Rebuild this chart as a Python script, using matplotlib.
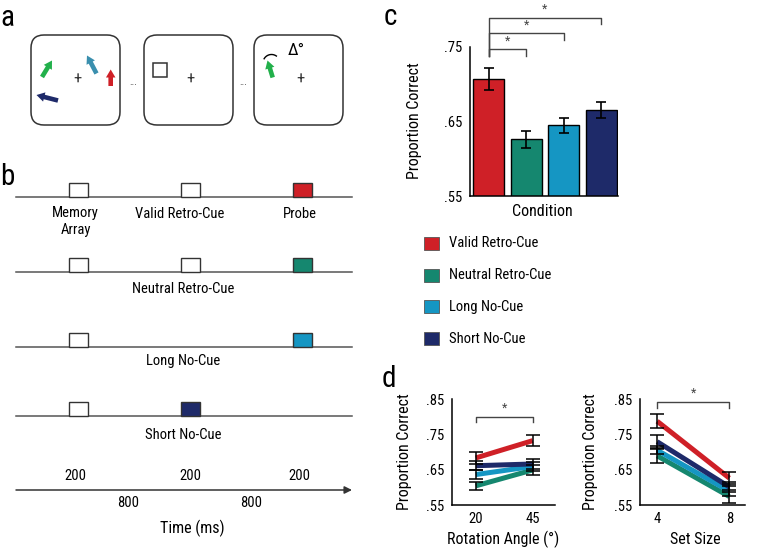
import numpy as np
import matplotlib
matplotlib.use("Agg")
import matplotlib.pyplot as plt
from matplotlib.patches import FancyBboxPatch, Rectangle, FancyArrow

plt.rcParams['font.family'] = ['Liberation Sans Narrow', 'Roboto Condensed', 'Liberation Sans', 'DejaVu Sans']

# ---- data ----
conditions = ['Valid Retro-Cue', 'Neutral Retro-Cue', 'Long No-Cue', 'Short No-Cue']
colors = ['#cf2027', '#15876f', '#1596c3', '#1e2a69']

# panel c: proportion correct by condition
acc_mean = [0.707, 0.626, 0.645, 0.665]
acc_err = [0.0145, 0.0115, 0.010, 0.011]
sig_pairs = [(0, 1), (0, 2), (0, 3)]

# panel d: rotation angle
angles = [20, 45]
angle_mean = [[0.684, 0.733], [0.605, 0.650], [0.637, 0.660], [0.662, 0.667]]
angle_err = [[0.018, 0.015], [0.011, 0.013], [0.013, 0.012], [0.012, 0.013]]

# panel d: set size
set_sizes = [4, 8]
size_mean = [[0.788, 0.627], [0.690, 0.575], [0.706, 0.590], [0.730, 0.602]]
size_err = [[0.020, 0.016], [0.019, 0.018], [0.012, 0.015], [0.019, 0.015]]

# panel b: trial timing (ms)
durations = [200, 800, 200, 800, 200]
time_labels = ['200', '800', '200', '800', '200']
row_events = [['white', 'white', colors[0]],
              ['white', 'white', colors[1]],
              ['white', None, colors[2]],
              ['white', colors[3], None]]
row_names = [None, 'Neutral Retro-Cue', 'Long No-Cue', 'Short No-Cue']

W, H = 761, 548
fig = plt.figure(figsize=(W / 100, H / 100), dpi=100)

# overlay in pixel coordinates for the schematics and labels
ax0 = fig.add_axes([0, 0, 1, 1])
ax0.set_xlim(0, W)
ax0.set_ylim(H, 0)
ax0.axis('off')

dark = '#333333'
fs_lab = 11.5
fs_tick = 10.5

# panel letters
for s, x, y in [('a', 7.5, 26), ('b', 7.5, 185), ('c', 390, 25), ('d', 389, 387)]:
    ax0.text(x, y, s, fontsize=21, ha='center', va='baseline')

# ---- panel a ----
for x0 in [31, 144, 254]:
    ax0.add_patch(FancyBboxPatch((x0, 35), 89, 90, boxstyle='round,pad=0,rounding_size=13',
                                 fc='white', ec=dark, lw=1.1))
    ax0.text(x0 + 46, 79, '+', fontsize=12, ha='center', va='center', color=dark)
for x in [133, 243]:
    ax0.text(x, 82, '...', fontsize=7, ha='center', va='center', color=dark)

arrows = [((42, 77), (52, 60.5), '#22b04b'),
          ((96.5, 73.5), (87, 55.5), '#3a8fae'),
          ((110.7, 86), (110.7, 69.5), '#cf2027'),
          ((58, 100.5), (36.5, 95), '#1e2a69'),
          ((272.7, 77.5), (267.5, 60.5), '#22b04b')]
for (x1, y1), (x2, y2), c in arrows:
    ax0.add_patch(FancyArrow(x1, y1, x2 - x1, y2 - y1, width=4.6, head_width=9.5,
                             head_length=8, length_includes_head=True, color=c, lw=0))
ax0.add_patch(Rectangle((153, 63), 14, 14, fc='white', ec=dark, lw=1.1))
t = np.radians(np.linspace(55, 150, 30))
ax0.plot(271.5 + 8.5 * np.cos(t), 63 - 8.5 * np.sin(t), color='black', lw=1.0)
ax0.text(288, 55, 'Δ°', fontsize=12.5, ha='left', va='baseline')

# ---- panel b ----
onsets = np.cumsum([0] + durations[:-1])
scale = 0.112
x_start = 69
box_w, box_h = 19, 14
row_y = [196.7, 271.7, 347.3, 415.7]
line_x = (16, 352)
for r, y in enumerate(row_y):
    ax0.plot(line_x, [y, y], color='#555555', lw=1.1, zorder=1)
    for k, fc in enumerate(row_events[r]):
        if fc is None:
            continue
        bx = x_start + onsets[2 * k] * scale
        ax0.add_patch(Rectangle((bx, y - box_h), box_w, box_h, fc=fc, ec=dark, lw=1, zorder=2))
    if row_names[r]:
        ax0.text(np.mean(line_x) - 1, y + [0, 21, 18, 23][r], row_names[r], fontsize=fs_tick,
                 ha='center', va='baseline')
box_cx = [x_start + onsets[2 * k] * scale + box_w / 2 - 3 for k in range(3)]
ax0.text(box_cx[0], 217.3, 'Memory', fontsize=fs_tick, ha='center', va='baseline')
ax0.text(box_cx[0], 234, 'Array', fontsize=fs_tick, ha='center', va='baseline')
ax0.text(box_cx[1] - 8, 218.3, 'Valid Retro-Cue', fontsize=fs_tick, ha='center', va='baseline')
ax0.text(box_cx[2], 218.3, 'Probe', fontsize=fs_tick, ha='center', va='baseline')

ax0.annotate('', xy=(352, 490), xytext=(16, 490),
             arrowprops=dict(arrowstyle='-|>', color=dark, lw=1.1, mutation_scale=11,
                             shrinkA=0, shrinkB=0))
time_label_x = [75, 128, 190, 251, 299]
for k, lab in enumerate(time_labels):
    ax0.text(time_label_x[k], 480 if k % 2 == 0 else 507, lab, fontsize=fs_tick,
             ha='center', va='baseline')
ax0.text(192, 533, 'Time (ms)', fontsize=fs_lab, ha='center', va='baseline')

# ---- legend ----
for i, (name, c) in enumerate(zip(conditions, colors)):
    y = 236.7 + i * 31.8
    ax0.add_patch(Rectangle((424.3, y), 14.7, 13, fc=c, ec='#555555', lw=0.6))
    ax0.text(449, y + 10.5, name, fontsize=fs_tick, ha='left', va='baseline')


def frac(left, right, top, bottom):
    return [left / W, 1 - bottom / H, (right - left) / W, (bottom - top) / H]


def style(ax):
    for s in ['top', 'right']:
        ax.spines[s].set_visible(False)
    for s in ['left', 'bottom']:
        ax.spines[s].set_linewidth(1.1)
    ax.tick_params(length=0, labelsize=fs_tick, pad=5.5)


def fmt(v):
    return '{:.2f}'.format(v).lstrip('0')


# ---- panel c ----
axc = fig.add_axes(frac(470, 618, 46.7, 196))
xpos = np.arange(len(conditions))
axc.bar(xpos, acc_mean, width=0.83, color=colors, edgecolor='black', lw=1,
        yerr=acc_err, capsize=3.5, error_kw=dict(elinewidth=1.2, capthick=1.2, ecolor='black'))
axc.set_ylim(0.55, 0.75)
axc.set_xlim(-0.5, 3.45)
axc.set_yticks([0.55, 0.65, 0.75])
axc.set_yticklabels([fmt(v) for v in [0.55, 0.65, 0.75]])
axc.set_xticks([])
style(axc)
levels = [0.747, 0.768, 0.789]
drop = 0.009
for (i, j), lv in zip(sig_pairs, levels):
    axc.plot([i, i, j, j], [levels[0] - drop, lv, lv, lv - drop], color='#444444', lw=1, clip_on=False)
    axc.text((i + j) / 2, lv + 0.002, '*', fontsize=9, ha='center', va='bottom', color='#444444')
ax0.text(415, 121, 'Proportion Correct', fontsize=fs_lab, rotation=90, ha='center', va='center')
ax0.text(542, 216.5, 'Condition', fontsize=fs_lab, ha='center', va='baseline')


# ---- panel d ----
def line_panel(ax, xs, means, errs, xlim, lv, dr):
    for m, e, c in zip(means, errs, colors):
        ax.plot(xs, m, color=c, lw=3.6, solid_capstyle='butt', zorder=2)
        ax.errorbar(xs, m, yerr=e, fmt='none', ecolor='black', elinewidth=1.1,
                    capsize=4.7, capthick=1.1, zorder=3)
    ax.set_xlim(*xlim)
    ax.set_ylim(0.55, 0.85)
    ticks = [0.55, 0.65, 0.75, 0.85]
    ax.set_yticks(ticks)
    ax.set_yticklabels([fmt(v) for v in ticks])
    ax.set_xticks(xs)
    style(ax)
    ax.tick_params(axis='x', pad=4.6)
    ax.plot([xs[0], xs[0], xs[1], xs[1]], [lv - dr, lv, lv, lv - dr], color='#444444', lw=1)
    ax.text(np.mean(xs), lv + 0.006, '*', fontsize=9, ha='center', va='bottom', color='#444444')


axd1 = fig.add_axes(frac(452.3, 555, 399.3, 505.3))
line_panel(axd1, angles, angle_mean, angle_err, (9.7, 54.8), 0.800, 0.014)
axd2 = fig.add_axes(frac(640, 745, 399.3, 505.3))
line_panel(axd2, set_sizes, size_mean, size_err, (3.05, 8.87), 0.843, 0.019)

ax0.text(405, 452, 'Proportion Correct', fontsize=fs_lab, rotation=90, ha='center', va='center')
ax0.text(590, 452, 'Proportion Correct', fontsize=fs_lab, rotation=90, ha='center', va='center')
ax0.text(503, 544, 'Rotation Angle (°)', fontsize=fs_lab, ha='center', va='baseline')
ax0.text(695, 544, 'Set Size', fontsize=fs_lab, ha='center', va='baseline')

fig.savefig('out.png', dpi=100)
